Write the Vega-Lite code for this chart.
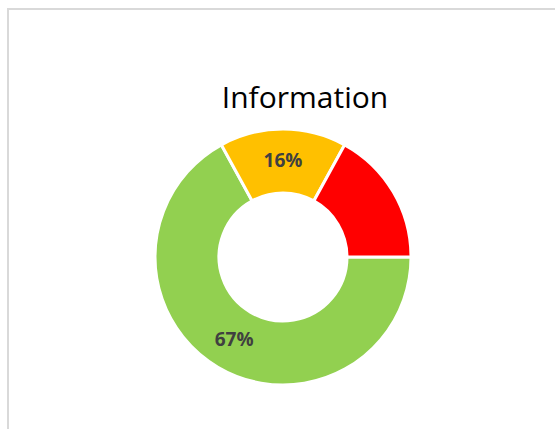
{
  "$schema": "https://vega.github.io/schema/vega-lite/v6.json",
  "width": 547,
  "height": 420,
  "autosize": {"type": "none"},
  "padding": {"left": 8, "top": 9, "right": 0, "bottom": 0},
  "background": "white",
  "view": {"stroke": "#d9d9d9", "strokeWidth": 2, "strokeDash": [547, 967, 420]},
  "title": {
    "text": "Information",
    "font": "Open Sans",
    "fontSize": 30,
    "fontWeight": "normal",
    "color": "#000000",
    "anchor": "middle",
    "frame": "group",
    "baseline": "alphabetic",
    "offset": 0,
    "dx": 23.5,
    "dy": 129
  },
  "data": {
    "values": [
      {"category": "Green", "value": 67, "rank": 1, "label": "67%"},
      {"category": "Yellow", "value": 16, "rank": 2, "label": "16%"},
      {"category": "Red", "value": 17, "rank": 3, "label": ""}
    ]
  },
  "encoding": {
    "theta": {"field": "value", "type": "quantitative", "stack": true, "scale": {"range": [1.5708, 7.854]}},
    "order": {"field": "rank", "type": "quantitative"}
  },
  "layer": [
    {
      "mark": {"type": "arc", "outerRadius": 128, "innerRadius": 64, "stroke": "white", "strokeWidth": 3,
        "x": {"expr": "width/2 + 1.5"}, "y": {"expr": "height/2 + 38"}},
      "encoding": {
        "color": {"field": "category", "type": "nominal",
          "scale": {"domain": ["Green", "Yellow", "Red"], "range": ["#92D050", "#FFC000", "#FF0000"]},
          "legend": null}
      }
    },
    {
      "mark": {"type": "text", "radius": 96, "font": "Open Sans", "fontSize": 19, "fontWeight": "bold", "color": "#404040",
        "x": {"expr": "width/2 + 1.5"}, "y": {"expr": "height/2 + 38"}},
      "encoding": {
        "text": {"field": "label", "type": "nominal"}
      }
    }
  ]
}
